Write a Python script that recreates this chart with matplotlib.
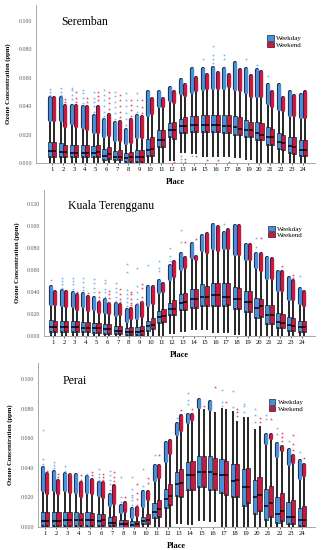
import numpy as np
import matplotlib
matplotlib.use("Agg")
import matplotlib.pyplot as plt
import matplotlib.patheffects as pe
from matplotlib.patches import Patch

plt.rcParams['font.family'] = ['Liberation Serif', 'DejaVu Serif']

hours = np.arange(1, 25)
tick_labels = [str(h) for h in hours]

# ---- Seremban ----
sr_lo = [0, 0, 0, 0, 0, 0, 0, 0, 0, 0, 0, .002, .008, .007, .005, .005, .005, .004, .003, .001, 0, 0, 0, 0]
sr_wd_q1 = [.004, .004, .004, .004, .004, .002, .002, .001, .001, .005, .011, .018, .021, .022, .022, .022, .021, .020, .018, .016, .013, .010, .007, .005]
sr_wd_med = [.0082, .0078, .007, .007, .007, .005, .004, .0035, .004, .009, .016, .023, .026, .027, .027, .027, .026, .025, .023, .021, .018, .015, .012, .009]
sr_wd_q3 = [.0148, .014, .013, .013, .012, .010, .0085, .007, .009, .017, .023, .028, .031, .033, .034, .034, .034, .033, .030, .029, .025, .021, .018, .016]
sr_wd_hi = [.0305, .030, .028, .025, .022, .019, .016, .014, .018, .034, .040, .044, .049, .050, .052, .053, .053, .052, .050, .047, .042, .038, .034, .032]
sr_wd_out = [.046, .046, .040, .039, .033, .030, .028, .023, .033, .050, .050, .053, .058, .066, .066, .067, .066, .070, .066, .065, .055, .055, .050, .048]
sr_wd_ext = [[.048, .050, .052], [.048, .050, .053], [.045, .048, .051, .053], [.042, .046, .049, .051],
             [.036, .040, .043, .046, .050], [.033, .036, .040, .044, .048, .051], [.031, .035, .039, .043, .047, .050],
             [.027, .031, .035, .040, .044, .049], [.036, .040, .044, .049], [], [], [], [.001, .003, .005], [.005],
             [.073], [.070, .073, .076, .082], [.073, .076], [], [.073], [.069], [.061], [], [], []]
sr_we_q1 = [.004, .004, .004, .004, .004, .003, .002, .001, .001, .005, .011, .017, .021, .022, .022, .022, .021, .020, .018, .016, .013, .009, .006, .005]
sr_we_med = [.0085, .0078, .007, .0072, .0075, .006, .0045, .004, .004, .010, .016, .023, .026, .027, .027, .027, .026, .024, .023, .020, .018, .014, .0115, .009]
sr_we_q3 = [.015, .013, .013, .013, .0125, .011, .009, .008, .009, .018, .023, .029, .032, .033, .034, .034, .034, .032, .029, .028, .024, .020, .018, .016]
sr_we_hi = [.030, .026, .026, .024, .022, .020, .016, .015, .018, .035, .040, .043, .048, .051, .053, .053, .054, .051, .047, .047, .040, .037, .034, .032]
sr_we_out = [.046, .040, .040, .039, .039, .034, .029, .030, .032, .045, .045, .050, .055, .060, .062, .063, .062, .065, .061, .064, .050, .046, .047, .050]
sr_we_ext = [[], [.043, .045], [.043, .046, .050], [.043, .046], [.044, .047, .050], [.038, .042, .046, .050],
             [.032, .036, .040, .044, .048], [.033, .037, .041, .044], [.035, .039, .044], [], [], [.001],
             [.001, .003], [.005], [.002], [.002], [.001], [], [], [], [], [], [], []]

# ---- Kuala Terengganu ----
kt_lo = [0, 0, 0, 0, 0, 0, 0, 0, 0, 0, 0, .003, .005, .006, .006, .004, .004, .002, .001, 0, 0, 0, 0, 0]
kt_wd_q1 = [.0036, .004, .004, .004, .003, .002, .002, .001, .001, .005, .012, .019, .024, .026, .027, .027, .027, .025, .022, .016, .011, .007, .005, .004]
kt_wd_med = [.008, .008, .008, .0075, .007, .006, .005, .004, .004, .009, .017, .025, .030, .034, .036, .037, .036, .034, .031, .026, .019, .013, .010, .008]
kt_wd_q3 = [.0143, .014, .014, .013, .012, .011, .009, .007, .008, .014, .023, .030, .038, .043, .047, .048, .048, .045, .041, .035, .028, .021, .017, .014]
kt_wd_hi = [.0295, .028, .027, .027, .025, .022, .019, .014, .016, .028, .040, .052, .061, .072, .078, .080, .080, .075, .070, .063, .053, .042, .034, .030]
kt_wd_out = [.0447, .041, .039, .038, .035, .033, .029, .024, .027, .045, .050, .064, .075, .084, .091, .101, .094, .100, .083, .075, .071, .058, .053, .043]
kt_wd_ext = [[.051], [.044, .047, .050, .053], [.043, .047, .050, .053], [.042, .045, .049, .053],
             [.040, .044, .048, .052], [.036, .040, .043, .048, .051], [.032, .036, .040, .044, .048],
             [.027, .031, .035, .038, .042, .058, .066], [.030, .034, .040, .046, .062], [.065],
             [.059, .062, .068], [.068, .073, .080], [.086, .097], [], [], [], [.102], [], [], [.081, .089],
             [], [], [], [.055]]
kt_we_q1 = [.004, .004, .004, .004, .003, .002, .002, .001, .001, .006, .013, .019, .024, .026, .027, .027, .028, .025, .022, .017, .011, .007, .005, .004]
kt_we_med = [.008, .008, .008, .0075, .007, .006, .005, .004, .005, .010, .018, .025, .031, .034, .036, .037, .036, .034, .031, .027, .019, .012, .009, .008]
kt_we_q3 = [.014, .014, .014, .013, .012, .011, .009, .008, .009, .016, .025, .033, .039, .043, .046, .048, .048, .044, .041, .034, .028, .020, .016, .014]
kt_we_hi = [.029, .027, .025, .024, .022, .021, .020, .016, .018, .030, .041, .055, .063, .070, .077, .078, .080, .075, .070, .060, .053, .042, .034, .028]
kt_we_out = [.040, .040, .037, .036, .030, .029, .028, .025, .030, .045, .047, .067, .071, .072, .093, .099, .097, .100, .083, .075, .070, .058, .050, .040]
kt_we_ext = [[], [], [.040], [.039], [.033, .036, .040], [.031, .035, .038, .041], [.031, .034, .038, .043],
             [.028, .030, .034, .038, .040], [.032, .036, .044, .047], [], [], [], [.086], [.088], [], [],
             [], [], [], [.089], [], [.064], [.053, .056], []]

# ---- Perai ----
pr_lo = [0, 0, 0, 0, 0, 0, 0, 0, 0, 0, 0, .001, .003, .002, .005, .004, .001, .001, 0, 0, 0, 0, 0, 0]
pr_wd_q1 = [.001, .001, .001, .001, .001, .001, .0005, 0, 0, .002, .006, .013, .021, .025, .027, .025, .023, .020, .014, .009, .005, .003, .002, .001]
pr_wd_med = [.004, .004, .0045, .005, .005, .004, .003, .002, .0015, .004, .010, .019, .029, .035, .037, .037, .035, .031, .027, .020, .014, .009, .007, .005]
pr_wd_q3 = [.010, .010, .010, .010, .010, .009, .007, .005, .004, .007, .016, .026, .037, .044, .048, .048, .046, .043, .039, .032, .026, .020, .017, .013]
pr_wd_hi = [.025, .025, .025, .024, .024, .022, .015, .010, .007, .014, .032, .045, .063, .071, .081, .080, .080, .078, .074, .066, .057, .048, .043, .033]
pr_wd_out = [.040, .037, .036, .035, .034, .030, .022, .014, .012, .024, .041, .057, .070, .076, .086, .085, 0, 0, 0, 0, .062, .056, .052, .045]
pr_wd_ext = [[.043, .046, .066], [.040, .042, .044], [.038, .041], [], [.036], [.032, .034, .036, .039],
             [.025, .029, .032, .035, .038], [.017, .020, .034], [.015, .018, .020, .022, .026, .034],
             [.028, .039], [.049], [], [.074], [.083, .086, .091], [], [], [.082, .085, .093], [.081, .092],
             [.078, .082, .083], [.071, .076, .080], [.073, .076], [.063, .067], [.058], [.051]]
pr_we_q1 = [.001, .001, .001, .001, .001, .001, .0005, 0, 0, .002, .007, .015, .020, .025, .027, .025, .022, .020, .016, .011, .007, .004, .002, .001]
pr_we_med = [.004, .004, .0045, .005, .005, .0045, .003, .002, .002, .005, .012, .021, .030, .035, .037, .036, .035, .032, .027, .022, .016, .011, .007, .005]
pr_we_q3 = [.010, .010, .010, .0095, .0095, .009, .0075, .005, .004, .009, .018, .029, .039, .045, .048, .047, .045, .043, .040, .034, .028, .023, .018, .014]
pr_we_hi = [.023, .023, .024, .021, .023, .020, .016, .011, .008, .019, .034, .050, .066, .073, .079, .077, .079, .071, .074, .068, .060, .052, .044, .035]
pr_we_out = [.036, .031, .035, .030, .032, .030, .028, .016, .013, .024, .041, .058, .075, .076, 0, 0, 0, 0, 0, 0, .062, .054, .048, .042]
pr_we_ext = [[.038], [.034, .036], [.036], [.032, .035], [.035, .037], [.032, .034, .036], [.031, .034, .037],
             [.020], [.015, .019, .023, .029], [.030, .033], [.049], [], [.079], [.080], [.082], [.095], [.085],
             [.075, .078, .080], [], [.071, .074], [.073], [.058, .061, .064], [.052, .056, .062], [.047]]

WD_COLOR = "#4a8fdc"
WE_COLOR = "#d2153c"
WD_EXT = "#7fb3ea"
WE_EXT = "#e5506e"


def draw_group(ax, pos, lo, q1, med, q3, hi, out, ext, color, ext_color):
    stats = [dict(whislo=lo[i], q1=q1[i], med=med[i], q3=q3[i], whishi=hi[i], fliers=[])
             for i in range(len(pos))]
    ax.bxp(stats, positions=pos, widths=0.38, patch_artist=True, showfliers=False,
           manage_ticks=False,
           boxprops=dict(facecolor=color, edgecolor="#1e2430", linewidth=0.5),
           medianprops=dict(color="black", linewidth=1.1),
           whiskerprops=dict(color="#262626", linewidth=1.4),
           capprops=dict(linewidth=0))
    # dense run of overlapping outlier circles
    for x, h, o in zip(pos, hi, out):
        if o > h:
            ax.plot([x, x], [h, o], color=color, lw=2.3, solid_capstyle="round", zorder=3,
                    path_effects=[pe.Stroke(linewidth=3.0, foreground="#1e2a44"), pe.Normal()])
    xs, ys = [], []
    for x, vals in zip(pos, ext):
        xs += [x] * len(vals)
        ys += vals
    ax.scatter(xs, ys, marker="*", s=5, color=ext_color, linewidths=0, zorder=4)


def draw_panel(rect, name, lo, wd, we, ylim, yticks, xlim, leg_xy):
    ax = fig.add_axes(rect)
    draw_group(ax, hours - 0.2, lo, *wd, WD_COLOR, WD_EXT)
    draw_group(ax, hours + 0.2, lo, *we, WE_COLOR, WE_EXT)
    ax.set_xlim(*xlim)
    ax.set_ylim(*ylim)
    ax.set_yticks(yticks)
    ax.set_yticklabels([f"{t:.3f}" for t in yticks], fontsize=4.2, color="#555555")
    ax.set_xticks(hours)
    ax.set_xticklabels(tick_labels, fontsize=4.8)
    ax.tick_params(axis="y", length=0, pad=3)
    ax.tick_params(axis="x", length=1.5, width=0.4, pad=1.5)
    for s in ["top", "right"]:
        ax.spines[s].set_visible(False)
    for s in ["left", "bottom"]:
        ax.spines[s].set_color("#9a9a9a")
        ax.spines[s].set_linewidth(0.6)
    ax.set_xlabel("Place", fontsize=6, fontweight="bold", labelpad=4)
    ax.set_ylabel("Ozone Concentration (ppm)", fontsize=4.8, fontweight="bold", labelpad=5)
    ax.text(0.09, 0.93, name, transform=ax.transAxes, fontsize=8.5, va="top", ha="left")
    handles = [Patch(facecolor=WD_COLOR, edgecolor="#1e2430", linewidth=0.5, label="Weekday"),
               Patch(facecolor=WE_COLOR, edgecolor="#1e2430", linewidth=0.5, label="Weekend")]
    ax.legend(handles=handles, loc="upper left", bbox_to_anchor=leg_xy, frameon=False,
              fontsize=5, handlelength=1.0, handleheight=0.8, handletextpad=0.3,
              labelspacing=0.05, borderpad=0)
    return ax


fig = plt.figure(figsize=(3.22, 5.5), dpi=100, facecolor="white")

draw_panel([0.112, 0.7036, 0.866, 0.2874], "Seremban", sr_lo,
           (sr_wd_q1, sr_wd_med, sr_wd_q3, sr_wd_hi, sr_wd_out, sr_wd_ext),
           (sr_we_q1, sr_we_med, sr_we_q3, sr_we_hi, sr_we_out, sr_we_ext),
           (0, 0.111), [0, .02, .04, .06, .08, .10], (-0.47, 25.1), (0.815, 0.83))

draw_panel([0.137, 0.389, 0.841, 0.2655], "Kuala Terengganu", kt_lo,
           (kt_wd_q1, kt_wd_med, kt_wd_q3, kt_wd_hi, kt_wd_out, kt_wd_ext),
           (kt_we_q1, kt_we_med, kt_we_q3, kt_we_hi, kt_we_out, kt_we_ext),
           (0, 0.133), [0, .02, .04, .06, .08, .10, .12], (0.17, 25.2), (0.815, 0.78))

draw_panel([0.118, 0.0418, 0.860, 0.298], "Perai", pr_lo,
           (pr_wd_q1, pr_wd_med, pr_wd_q3, pr_wd_hi, pr_wd_out, pr_wd_ext),
           (pr_we_q1, pr_we_med, pr_we_q3, pr_we_hi, pr_we_out, pr_we_ext),
           (0, 0.111), [0, .02, .04, .06, .08, .10], (0.37, 25.16), (0.82, 0.80))

fig.savefig("out.png", dpi=100, facecolor=fig.get_facecolor())
